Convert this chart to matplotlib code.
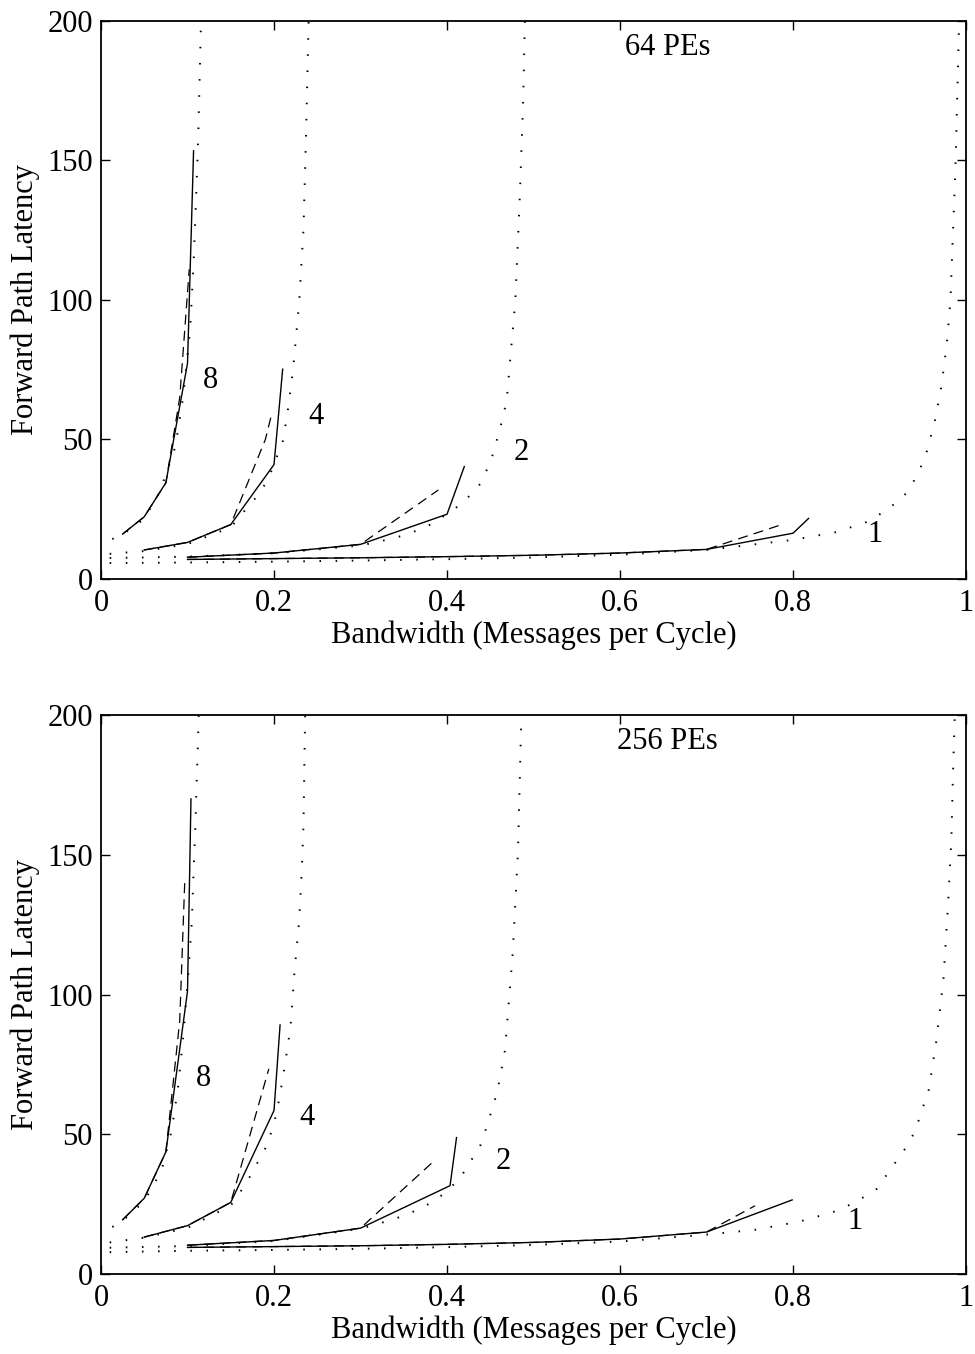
import matplotlib
matplotlib.use("Agg")
import matplotlib.pyplot as plt

plt.rcParams['font.family'] = ['Liberation Serif', 'DejaVu Serif']
plt.rcParams['font.size'] = 22

x_ticks = [0, 0.2, 0.4, 0.6, 0.8, 1]
x_tick_labels = ['0', '0.2', '0.4', '0.6', '0.8', '1']
y_ticks = [0, 50, 100, 150, 200]
y_tick_labels = ['0', '50', '100', '150', '200']
curve_names = ['8', '4', '2', '1']

# ---- 64 PEs (top panel) ----
# model curves (dotted)
t_model8_x = [0.013, 0.025, 0.05, 0.068, 0.086, 0.095, 0.103, 0.107, 0.110, 0.1125, 0.1156]
t_model8_y = [14.3, 16.0, 21.5, 31.3, 47.4, 65.3, 89.2, 113.2, 137, 160, 200]
t_model4_x = [0.01, 0.05, 0.1, 0.15, 0.165, 0.18, 0.193, 0.21, 0.215, 0.222, 0.229, 0.234, 0.237, 0.240]
t_model4_y = [9.0, 10.0, 12.5, 18.5, 24.1, 29.5, 35.5, 49.2, 58.2, 74.9, 98.8, 125, 158.5, 200]
t_model2_x = [0.01, 0.1, 0.2, 0.3, 0.323, 0.349, 0.375, 0.386, 0.407, 0.419, 0.429, 0.439,
              0.444, 0.45, 0.457, 0.461, 0.469, 0.479, 0.484, 0.488, 0.490]
t_model2_y = [7.5, 8.0, 9.2, 12.0, 13.5, 15.5, 18.5, 20.5, 24.7, 27.7, 30.7, 34.3,
              37.9, 41.5, 49.2, 53.4, 64, 100, 136, 171, 200]
t_model1_x = [0.01, 0.1, 0.2, 0.3, 0.4, 0.5, 0.6, 0.7, 0.8, 0.85, 0.885, 0.91, 0.932, 0.945,
              0.955, 0.965, 0.972, 0.978, 0.982, 0.985, 0.988, 0.990, 0.992]
t_model1_y = [5.7, 5.9, 6.2, 6.6, 7.1, 7.7, 8.7, 10.4, 14.0, 16.8, 20.4, 25, 31, 38,
              46, 58, 70, 85, 100, 125, 150, 175, 200]
# simulation, solid
t_sim8_x = [0.025, 0.05, 0.075, 0.1, 0.107]
t_sim8_y = [16.1, 22.3, 34.5, 77.3, 153.5]
t_sim4_x = [0.05, 0.1, 0.15, 0.2, 0.21]
t_sim4_y = [10.4, 13.1, 19.5, 41.0, 75.2]
t_sim2_x = [0.1, 0.2, 0.3, 0.4, 0.42]
t_sim2_y = [7.8, 9.3, 12.4, 23.2, 40.3]
t_sim1_x = [0.1, 0.2, 0.3, 0.4, 0.5, 0.6, 0.7, 0.8, 0.818]
t_sim1_y = [7.0, 7.3, 7.6, 8.0, 8.5, 9.3, 10.6, 16.4, 21.7]
# simulation, dashed
t_alt8_x = [0.025, 0.05, 0.075, 0.091, 0.102]
t_alt8_y = [16.1, 22.3, 34.5, 65, 111]
t_alt4_x = [0.05, 0.1, 0.15, 0.19, 0.198]
t_alt4_y = [10.4, 13.1, 19.5, 50, 60]
t_alt2_x = [0.1, 0.2, 0.3, 0.39]
t_alt2_y = [7.8, 9.3, 12.4, 31.9]
t_alt1_x = [0.1, 0.2, 0.3, 0.4, 0.5, 0.6, 0.7, 0.789]
t_alt1_y = [7.0, 7.3, 7.6, 8.0, 8.5, 9.3, 10.6, 19.7]
t_label_x = [0.127, 0.249, 0.486, 0.895]
t_label_y = [71, 58.4, 45.5, 15.8]

# ---- 256 PEs (bottom panel) ----
b_model8_x = [0.013, 0.025, 0.05, 0.07, 0.0817, 0.089, 0.095, 0.101, 0.105, 0.107, 0.109, 0.113]
b_model8_y = [16.8, 19.0, 26.0, 37.0, 51.4, 66.8, 84.6, 108, 126, 144, 160, 200]
b_model4_x = [0.01, 0.05, 0.1, 0.15, 0.168, 0.193, 0.203, 0.211, 0.219, 0.224, 0.229, 0.232, 0.234, 0.236]
b_model4_y = [11.3, 13.0, 16.5, 24.5, 32.5, 46.7, 57.5, 71.6, 88.2, 109.5, 126, 144, 160, 200]
b_model2_x = [0.01, 0.1, 0.2, 0.3, 0.323, 0.348, 0.373, 0.396, 0.415, 0.428, 0.438, 0.446,
              0.458, 0.467, 0.476, 0.482, 0.486]
b_model2_y = [9.4, 10.0, 11.8, 16.2, 18.2, 20.6, 23.9, 28.6, 34.2, 40.7, 45.5, 52.8,
              65, 80, 115, 151, 200]
b_model1_x = [0.01, 0.1, 0.2, 0.3, 0.4, 0.5, 0.6, 0.7, 0.756, 0.808, 0.846, 0.872, 0.897,
              0.914, 0.93, 0.941, 0.957, 0.966, 0.974, 0.979, 0.983, 0.985, 0.987]
b_model1_y = [7.8, 8.3, 8.6, 9.0, 9.6, 10.4, 11.6, 14.1, 15.8, 18.8, 22.1, 25.6, 30.5,
              38, 45, 51, 66, 84, 106, 131, 155, 180, 200]
b_sim8_x = [0.025, 0.05, 0.075, 0.1, 0.104]
b_sim8_y = [19.4, 27.1, 43.7, 101.2, 170]
b_sim4_x = [0.05, 0.1, 0.15, 0.2, 0.207]
b_sim4_y = [13.2, 17.3, 25.6, 58.5, 89.1]
b_sim2_x = [0.1, 0.2, 0.3, 0.4035, 0.411]
b_sim2_y = [10.3, 12.0, 16.4, 31.6, 48.8]
b_sim1_x = [0.1, 0.2, 0.3, 0.4, 0.5, 0.6, 0.7, 0.799]
b_sim1_y = [9.5, 9.8, 10.1, 10.6, 11.3, 12.5, 15.0, 26.5]
b_alt8_x = [0.025, 0.05, 0.075, 0.091, 0.097]
b_alt8_y = [19.4, 27.1, 43.7, 90.6, 142]
b_alt4_x = [0.05, 0.1, 0.15, 0.194]
b_alt4_y = [13.2, 17.3, 25.6, 73.4]
b_alt2_x = [0.1, 0.2, 0.3, 0.382]
b_alt2_y = [10.3, 12.0, 16.4, 39.6]
b_alt1_x = [0.1, 0.2, 0.3, 0.4, 0.5, 0.6, 0.7, 0.756]
b_alt1_y = [9.5, 9.8, 10.1, 10.6, 11.3, 12.5, 15.0, 24.4]
b_label_x = [0.118, 0.238, 0.465, 0.872]
b_label_y = [69.9, 56, 40.3, 18.7]

dot_style = dict(color='black', lw=1.4, linestyle=(0, (0.8, 7.5)))
dash_style = dict(color='black', lw=0.9, linestyle=(0, (8, 5)))
solid_style = dict(color='black', lw=1.0, linestyle='-')


def draw_panel(ax, models, sims, alts, lab_x, lab_y, title):
    for mx, my in models:
        ax.plot(mx, my, **dot_style)
    for ax_, ay in alts:
        ax.plot(ax_, ay, **dash_style)
    for sx, sy in sims:
        ax.plot(sx, sy, **solid_style)
    for name, lx, ly in zip(curve_names, lab_x, lab_y):
        ax.text(lx, ly, name, ha='center', va='center')
    ax.text(0.655, 190.5, title, ha='center', va='center')
    ax.set_xlim(0, 1)
    ax.set_ylim(0, 200)
    ax.set_xticks(x_ticks)
    ax.set_xticklabels(x_tick_labels)
    ax.set_yticks(y_ticks)
    ax.set_yticklabels(y_tick_labels)
    ax.tick_params(direction='in', length=6.5, width=1, top=True, right=True, pad=6)
    ax.tick_params(axis='x', pad=7)
    for sp in ax.spines.values():
        sp.set_linewidth(1.3)
    ax.set_xlabel('Bandwidth (Messages per Cycle)', labelpad=2)
    ax.set_ylabel('Forward Path Latency', labelpad=5)


fig = plt.figure(figsize=(9.75, 13.54), dpi=100)
ax_top = fig.add_axes([0.1036, 0.5724, 0.8872, 0.4121])
ax_bot = fig.add_axes([0.1036, 0.0591, 0.8872, 0.4128])

draw_panel(ax_top,
           [(t_model8_x, t_model8_y), (t_model4_x, t_model4_y), (t_model2_x, t_model2_y), (t_model1_x, t_model1_y)],
           [(t_sim8_x, t_sim8_y), (t_sim4_x, t_sim4_y), (t_sim2_x, t_sim2_y), (t_sim1_x, t_sim1_y)],
           [(t_alt8_x, t_alt8_y), (t_alt4_x, t_alt4_y), (t_alt2_x, t_alt2_y), (t_alt1_x, t_alt1_y)],
           t_label_x, t_label_y, '64 PEs')
draw_panel(ax_bot,
           [(b_model8_x, b_model8_y), (b_model4_x, b_model4_y), (b_model2_x, b_model2_y), (b_model1_x, b_model1_y)],
           [(b_sim8_x, b_sim8_y), (b_sim4_x, b_sim4_y), (b_sim2_x, b_sim2_y), (b_sim1_x, b_sim1_y)],
           [(b_alt8_x, b_alt8_y), (b_alt4_x, b_alt4_y), (b_alt2_x, b_alt2_y), (b_alt1_x, b_alt1_y)],
           b_label_x, b_label_y, '256 PEs')

fig.savefig('out.png', dpi=100)
